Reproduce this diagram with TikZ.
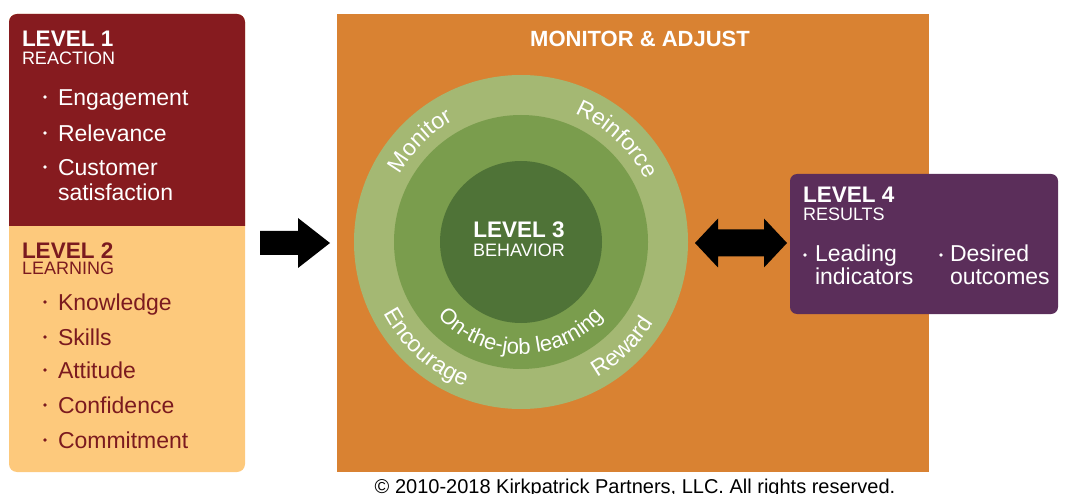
\documentclass[tikz,border=0pt]{standalone}
\usepackage{fontspec}
\setmainfont{Liberation Sans}
\usetikzlibrary{decorations.text}
\definecolor{lvred}{HTML}{861B1F}
\definecolor{lvpeach}{HTML}{FDC97C}
\definecolor{lvredtxt}{HTML}{7B1A1F}
\definecolor{lvorange}{HTML}{D98232}
\definecolor{ringout}{HTML}{A4B873}
\definecolor{ringmid}{HTML}{7A9D4D}
\definecolor{ringin}{HTML}{4F7337}
\definecolor{lvpurple}{HTML}{5B2E5A}
\newcommand{\ringfont}{\fontsize{23}{26}\selectfont\color{white}}
\newcommand{\midfont}{\fontsize{22}{25}\selectfont\color{white}}
\tikzset{
  txt/.style={inner sep=0pt, outer sep=0pt, anchor=base west},
  headtxt/.style={txt, font=\fontsize{22.5}{24}\selectfont\bfseries},
  subtxt/.style={txt, font=\fontsize{18}{20}\selectfont},
  itemtxt/.style={txt, font=\fontsize{23}{25}\selectfont},
  bulletdot/.style={circle, inner sep=0pt, minimum size=3.6pt},
}
\begin{document}
\begin{tikzpicture}[x=1pt,y=1pt]
\useasboundingbox (0,0) rectangle (1068,-494);
% left box
\fill[lvpeach, rounded corners=8] (9,-14) rectangle (245,-472);
\fill[lvred] (9,-226) [rounded corners=8] -- (9,-14) -- (245,-14) [sharp corners] -- (245,-226) -- cycle;
% level 1
\node[headtxt, text=white] (l1h) at (22,-47) {LEVEL 1};
\node[subtxt, text=white] (l1s) at (22,-65) {REACTION};
\foreach \n/\y/\t in {a/106/Engagement, b/142/Relevance, c/176/Customer}{
  \node[itemtxt, text=white] (l1\n) at (58,-\y) {\t};
  \node[bulletdot, fill=white] (l1d\n) at (45,-\y+9) {};
}
\node[itemtxt, text=white] (l1c2) at (58,-201) {satisfaction};
% level 2
\node[headtxt, text=lvredtxt] (l2h) at (22,-259) {LEVEL 2};
\node[subtxt, text=lvredtxt] (l2s) at (22,-275) {LEARNING};
\foreach \n/\y/\t in {a/310/Knowledge, b/345/Skills, c/378/Attitude, d/413/Confidence, e/448/Commitment}{
  \node[itemtxt, text=lvredtxt] (l2\n) at (58,-\y) {\t};
  \node[bulletdot, fill=lvredtxt] (l2d\n) at (45,-\y+8) {};
}
% orange box
\fill[lvorange] (337,-14) rectangle (929,-472);
\node[headtxt, anchor=base, text=white, font=\fontsize{22}{24}\selectfont\bfseries] (mon) at (640,-47) {MONITOR \& ADJUST};
% circles
\coordinate (c) at (521,-242);
\fill[ringout] (c) circle[radius=167];
\fill[ringmid] (c) circle[radius=127];
\fill[ringin] (c) circle[radius=81];
\node[headtxt, anchor=base, text=white] (l3h) at (519,-238) {LEVEL 3};
\node[subtxt, anchor=base, text=white] (l3s) at (519,-257) {BEHAVIOR};
\path[decorate, decoration={text along path, text align=center, text={|\ringfont|Monitor}}]
  ([shift={(175:139)}]c) arc[start angle=175, end angle=95, radius=139];
\path[decorate, decoration={text along path, text align=center, text={|\ringfont|Reinforce}}]
  ([shift={(87:139)}]c) arc[start angle=87, end angle=7, radius=139];
\path[decorate, decoration={text along path, text align=center, text={|\ringfont|Encourage}}]
  ([shift={(188:155)}]c) arc[start angle=188, end angle=268, radius=155];
\path[decorate, decoration={text along path, text align=center, text={|\ringfont|Reward}}]
  ([shift={(274:155)}]c) arc[start angle=274, end angle=354, radius=155];
\path[decorate, decoration={text along path, text align=center, text={|\midfont|On-the-job learning}}]
  ([shift={(195:112)}]c) arc[start angle=195, end angle=345, radius=112];
% level 4 box
\fill[lvpurple, rounded corners=7] (790,-174) rectangle (1058,-314);
\node[headtxt, text=white] (l4h) at (803,-203) {LEVEL 4};
\node[subtxt, text=white] (l4s) at (803,-221) {RESULTS};
\node[itemtxt, text=white] (l4a) at (815,-262) {Leading};
\node[itemtxt, text=white] (l4a2) at (815,-285) {indicators};
\node[itemtxt, text=white] (l4b) at (950,-262) {Desired};
\node[itemtxt, text=white] (l4b2) at (950,-285) {outcomes};
\node[bulletdot, fill=white] (l4da) at (805,-255) {};
\node[bulletdot, fill=white] (l4db) at (941,-255) {};
% arrows
\coordinate (a1s) at (260,-243);
\coordinate (a1e) at (330,-243);
\fill[black] (a1s) ++(0,12) -- ++(38,0) -- ++(0,13) -- (a1e) -- ++(-32,-25) -- ++(0,13) -- ++(-38,0) -- cycle;
\coordinate (a2s) at (695,-243);
\coordinate (a2e) at (787,-243);
\fill[black] (a2s) -- ++(23,24.5) -- ++(0,-11) -- ++(46,0) -- ++(0,11) -- (a2e) -- ++(-23,-24.5) -- ++(0,11) -- ++(-46,0) -- ++(0,-11) -- cycle;
% copyright
\node[txt, anchor=base, font=\fontsize{20}{22}\selectfont] (copy) at (635,-493) {© 2010-2018 Kirkpatrick Partners, LLC. All rights reserved.};
\end{tikzpicture}
\end{document}
